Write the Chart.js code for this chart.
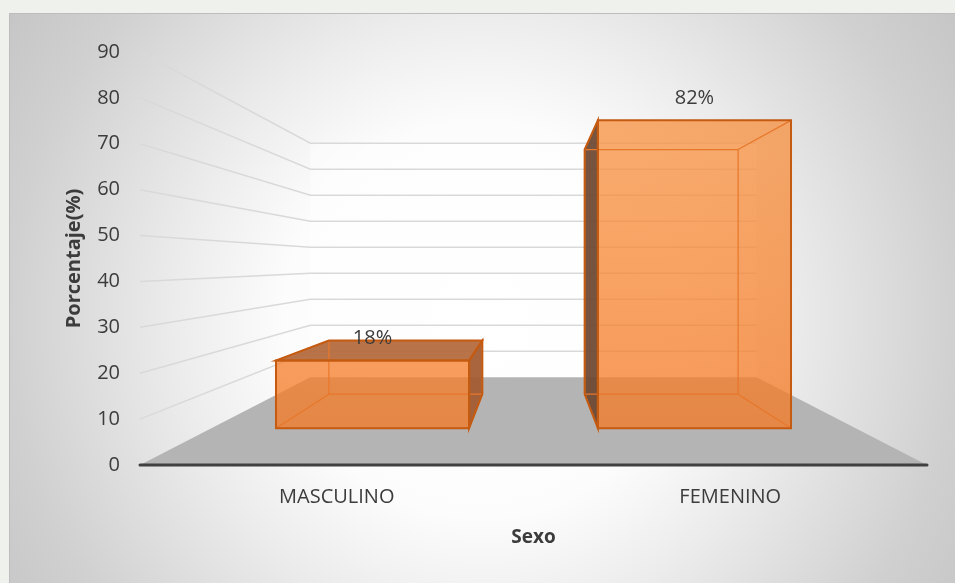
<!DOCTYPE html>
<html>
<head>
<meta charset="utf-8">
<title>Sexo</title>
<script src="https://cdn.jsdelivr.net/npm/chart.js@4.4.1/dist/chart.umd.min.js"></script>
<style>
  body { margin: 0; background: #eef1ec; overflow: hidden; }
  canvas { display: block; }
</style>
</head>
<body>
<canvas id="myChart" width="955" height="583"></canvas>
<script>
// datos del grafico
var categorias = ['MASCULINO', 'FEMENINO'];
var porcentajes = [18, 82];
var ticksY = [0, 10, 20, 30, 40, 50, 60, 70, 80, 90];

var tituloX = 'Sexo';
var tituloY = 'Porcentaje(%)';

// perspectiva (factores de profundidad, 1 = plano frontal)
var vista = { ojo: 0.49, pared: 0.567, cajaFrente: 0.818, cajaFondo: 0.65 };

function proyectar(chart, x, y, s) {
  var a = chart.chartArea;
  var vx = (a.left + a.right) / 2;
  var vy = a.bottom - vista.ojo * (a.bottom - a.top);
  return { x: vx + (x - vx) * s, y: vy + (y - vy) * s };
}

function poligono(ctx, pts) {
  ctx.beginPath();
  ctx.moveTo(pts[0].x, pts[0].y);
  for (var i = 1; i < pts.length; i++) ctx.lineTo(pts[i].x, pts[i].y);
  ctx.closePath();
}

function linea(ctx, p, q) {
  ctx.beginPath();
  ctx.moveTo(p.x, p.y);
  ctx.lineTo(q.x, q.y);
  ctx.stroke();
}

var fondo = {
  id: 'fondo',
  beforeDraw: function (chart) {
    var ctx = chart.ctx;
    ctx.save();
    ctx.fillStyle = '#eef1ec';
    ctx.fillRect(0, 0, chart.width, chart.height);
    var g = ctx.createRadialGradient(482, 320, 0, 482, 320, 600);
    g.addColorStop(0, '#ffffff');
    g.addColorStop(0.33, '#fcfcfc');
    g.addColorStop(0.4, '#f6f6f6');
    g.addColorStop(0.51, '#ececec');
    g.addColorStop(0.79, '#d0d0d0');
    g.addColorStop(0.94, '#c6c6c6');
    g.addColorStop(1, '#c3c3c3');
    ctx.fillStyle = g;
    ctx.fillRect(9, 13, chart.width, chart.height);
    ctx.strokeStyle = '#bdbdbd';
    ctx.lineWidth = 1;
    ctx.strokeRect(9.5, 13.5, chart.width, chart.height);
    ctx.restore();
  }
};

var escena = {
  id: 'escena',
  beforeDatasetsDraw: function (chart) {
    var ctx = chart.ctx, a = chart.chartArea, ys = chart.scales.y;
    ctx.save();

    // pared del fondo
    var top = ys.getPixelForValue(ticksY[ticksY.length - 1]);
    poligono(ctx, [
      proyectar(chart, a.left, top, vista.pared),
      proyectar(chart, a.right, top, vista.pared),
      proyectar(chart, a.right, a.bottom, vista.pared),
      proyectar(chart, a.left, a.bottom, vista.pared)
    ]);
    ctx.fillStyle = 'rgba(255,255,255,0.45)';
    ctx.fill();

    // lineas de division
    ctx.strokeStyle = '#d9d9d9';
    ctx.lineWidth = 1.5;
    ticksY.forEach(function (v) {
      if (v === 0) return;
      var py = ys.getPixelForValue(v);
      var p = proyectar(chart, a.left, py, vista.pared);
      var q = proyectar(chart, a.right, py, vista.pared);
      ctx.beginPath();
      ctx.moveTo(a.left, py);
      ctx.lineTo(p.x, p.y);
      ctx.lineTo(q.x, q.y);
      ctx.stroke();
    });

    // piso
    var base = ys.getPixelForValue(0);
    poligono(ctx, [
      { x: a.left, y: base },
      proyectar(chart, a.left, base, vista.pared),
      proyectar(chart, a.right, base, vista.pared),
      { x: a.right, y: base }
    ]);
    ctx.fillStyle = '#b4b4b4';
    ctx.fill();

    ctx.strokeStyle = '#404040';
    ctx.lineWidth = 3;
    ctx.lineCap = 'round';
    linea(ctx, { x: a.left, y: base }, { x: a.right, y: base });
    ctx.restore();
  },

  afterDatasetsDraw: function (chart) {
    var ctx = chart.ctx, a = chart.chartArea;
    var vx = (a.left + a.right) / 2;
    var vy = a.bottom - vista.ojo * (a.bottom - a.top);
    var meta = chart.getDatasetMeta(0);
    var grad = ctx.createLinearGradient(0, a.top, 0, a.bottom);
    grad.addColorStop(0, '#f89748');
    grad.addColorStop(1, '#f47620');

    ctx.save();
    meta.data.forEach(function (bar, i) {
      var p = bar.getProps(['x', 'y', 'base', 'width'], true);
      var x1 = p.x - p.width / 2, x2 = p.x + p.width / 2;
      var f = [
        proyectar(chart, x1, p.y, vista.cajaFrente),
        proyectar(chart, x2, p.y, vista.cajaFrente),
        proyectar(chart, x2, p.base, vista.cajaFrente),
        proyectar(chart, x1, p.base, vista.cajaFrente)
      ];
      var b = [
        proyectar(chart, x1, p.y, vista.cajaFondo),
        proyectar(chart, x2, p.y, vista.cajaFondo),
        proyectar(chart, x2, p.base, vista.cajaFondo),
        proyectar(chart, x1, p.base, vista.cajaFondo)
      ];

      // caras visibles por fuera
      var caras = [];
      if (p.y > vy) caras.push({ pts: [f[0], f[1], b[1], b[0]], color: '#b4683a' });
      if (x1 > vx) caras.push({ pts: [f[0], b[0], b[3], f[3]], color: '#6c4730' });
      if (x2 < vx) caras.push({ pts: [f[1], b[1], b[2], f[2]], color: '#a25a2f' });
      caras.forEach(function (c) {
        poligono(ctx, c.pts);
        ctx.fillStyle = c.color;
        ctx.globalAlpha = 0.93;
        ctx.fill();
      });

      // cara frontal transparente
      poligono(ctx, f);
      ctx.fillStyle = grad;
      ctx.globalAlpha = 0.76;
      ctx.fill();
      ctx.globalAlpha = 1;

      // aristas interiores
      ctx.strokeStyle = '#e8772a';
      ctx.lineWidth = 1.2;
      poligono(ctx, b);
      ctx.stroke();
      for (var k = 0; k < 4; k++) linea(ctx, f[k], b[k]);

      // contornos
      ctx.strokeStyle = '#c55a11';
      ctx.lineWidth = 2;
      caras.forEach(function (c) {
        poligono(ctx, c.pts);
        ctx.stroke();
      });
      poligono(ctx, f);
      ctx.stroke();

      // etiqueta de datos
      ctx.fillStyle = '#3c3c3c';
      ctx.font = '20px "Open Sans"';
      ctx.textAlign = 'center';
      ctx.textBaseline = 'middle';
      ctx.fillText(porcentajes[i] + '%', (f[0].x + f[1].x) / 2, f[0].y - 22);
    });
    ctx.restore();
  }
};

var ctx = document.getElementById('myChart');
new Chart(ctx, {
  type: 'bar',
  data: {
    labels: categorias,
    datasets: [{
      label: tituloX,
      data: porcentajes,
      backgroundColor: 'rgba(0,0,0,0)',
      borderWidth: 0,
      barPercentage: 0.6,
      categoryPercentage: 1
    }]
  },
  options: {
    responsive: false,
    animation: false,
    devicePixelRatio: 1,
    layout: { padding: { left: 58, top: 52, right: 28, bottom: 30 } },
    plugins: {
      legend: { display: false },
      tooltip: { enabled: false }
    },
    scales: {
      x: {
        grid: { display: false, drawTicks: false },
        border: { display: false },
        ticks: { color: '#3c3c3c', padding: 20, font: { family: 'Open Sans', size: 20 } },
        title: {
          display: true, text: tituloX, color: '#3c3c3c',
          font: { family: 'Open Sans', size: 19, weight: 'bold' },
          padding: { top: 4, bottom: 4 }
        },
        afterFit: function (scale) {
          scale.height = 88;
        }
      },
      y: {
        min: ticksY[0],
        max: ticksY[ticksY.length - 1],
        afterBuildTicks: function (scale) {
          scale.ticks = ticksY.map(function (v) { return { value: v }; });
        },
        grid: { display: false, drawTicks: false },
        border: { display: false },
        ticks: { color: '#3c3c3c', padding: 20, font: { family: 'Open Sans', size: 20 } },
        title: {
          display: true, text: tituloY, color: '#3c3c3c',
          font: { family: 'Open Sans', size: 20, weight: 'bold' },
          padding: { top: 4, bottom: 4 }
        },
        afterFit: function (scale) {
          scale.width = 82;
        }
      }
    }
  },
  plugins: [fondo, escena]
});
</script>
</body>
</html>
